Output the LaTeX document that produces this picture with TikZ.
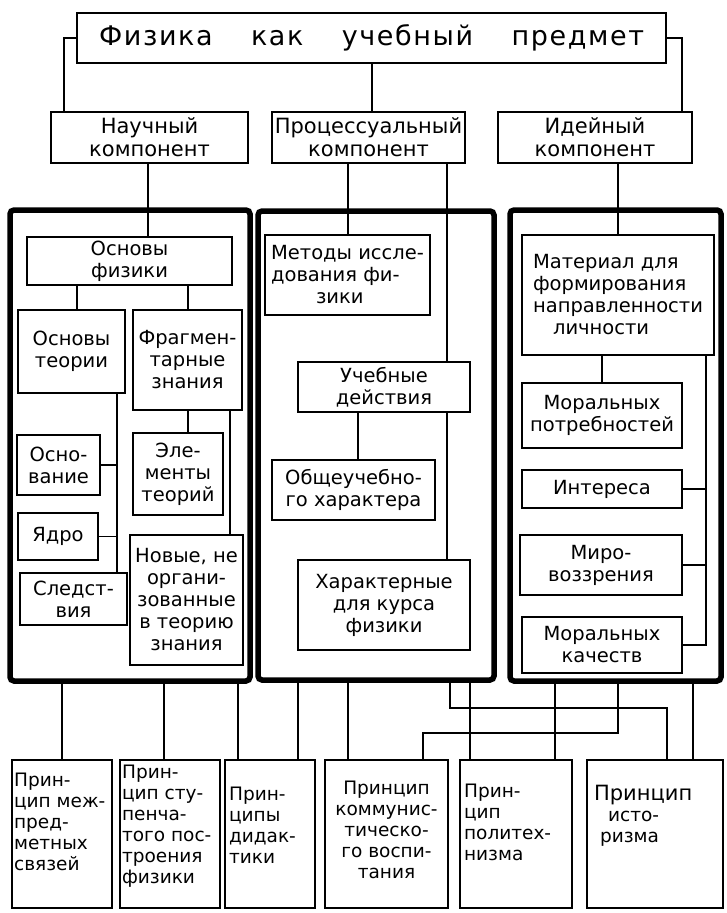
\documentclass[tikz,border=0pt]{standalone}
\usepackage{fontspec}
\setmainfont{DejaVu Sans}
\newcommand\fs{\fontsize{19.5}{22}\selectfont}
\newcommand\fr{\fontsize{21}{23}\selectfont}
\newcommand\fb{\fontsize{18.5}{21}\selectfont}
\newcommand\Bx[7][]{\node[bx,#1,minimum width={(#5-#3)*1pt},minimum height={(#6-#4)*1pt}] (#2) at ({(#3+#5)/2},{(#4+#6)/2}) {#7};}
\begin{document}
\begin{tikzpicture}[x=1pt,y=-1pt,
  bx/.style={draw,line width=2.2pt,inner sep=1pt,align=center,font=\fs},
  frm/.style={line width=5.5pt,rounded corners=4pt},
  bot/.style={font=\fb,align=left,inner sep=0pt},
  ln/.style={line width=1.8pt}]
\fill[white] (0,0) rectangle (727,913);
\useasboundingbox (0,0) rectangle (727,913);
% top
\Bx{top}{77}{13}{666}{63}{\fontsize{27}{30}\selectfont\addfontfeatures{LetterSpace=6}\makebox[545pt][s]{Физика как учебный предмет}}
\Bx[font=\fr]{nauch}{51}{112}{248}{163}{Научный\\компонент}
\Bx[font=\fr]{proc}{272}{112}{465}{163}{Процессуальный\\компонент}
\Bx[font=\fr]{idei}{498}{112}{692}{163}{Идейный\\компонент}
% frames
\Bx[frm]{frL}{10}{210}{250}{681}{}
\Bx[frm]{frM}{258}{211}{494}{680}{}
\Bx[frm]{frR}{510}{210}{721}{681}{}
% left
\Bx{osfiz}{27}{237}{232}{285}{Основы\\физики}
\Bx{osteor}{18}{310}{125}{393}{Основы\\теории}
\Bx{fragm}{133}{310}{242}{410}{Фрагмен-\\тарные\\знания}
\Bx{osnov}{17}{435}{100}{495}{Осно-\\вание}
\Bx{elem}{133}{433}{223}{515}{Эле-\\менты\\теорий}
\Bx{yadro}{18}{513}{98}{560}{Ядро}
\Bx{sledst}{20}{573}{127}{625}{Следст-\\вия}
\Bx{novye}{130}{535}{243}{665}{Новые, не\\органи-\\зованные\\в теорию\\знания}
% middle
\Bx[align=left]{metody}{265}{235}{430}{315}{Методы иссле-\\дования фи-\\\hspace*{45pt}зики}
\Bx{ucheb}{298}{362}{470}{412}{Учебные\\действия}
\Bx{obsh}{272}{460}{435}{520}{Общеучебно-\\го характера}
\Bx{harakt}{298}{560}{470}{650}{Характерные\\для курса\\физики}
% right
\Bx[align=left]{mater}{522}{235}{714}{355}{Материал для\\формирования\\направленности\\\hspace*{20pt}личности}
\Bx{morpotr}{522}{383}{682}{448}{Моральных\\потребностей}
\Bx{interes}{522}{470}{682}{508}{Интереса}
\Bx{mirov}{520}{535}{682}{595}{Миро-\\воззрения}
\Bx{morkach}{522}{617}{682}{673}{Моральных\\качеств}
% bottom boxes
\Bx{p1}{12}{760}{112}{908}{}
\Bx{p2}{120}{760}{220}{908}{}
\Bx{p3}{225}{760}{315}{908}{}
\Bx{p4}{325}{760}{448}{908}{}
\Bx{p5}{460}{760}{572}{908}{}
\Bx{p6}{587}{760}{723}{908}{}
\node[bot,anchor=north west] (t1) at ([xshift=3pt,yshift=-14pt]p1.north west) {Прин-\\цип меж-\\пред-\\метных\\связей};
\node[bot,anchor=north west] (t2) at ([xshift=3pt,yshift=-6pt]p2.north west) {Прин-\\цип сту-\\пенча-\\того пос-\\троения\\физики};
\node[bot,anchor=north west] (t3) at ([xshift=5pt,yshift=-28pt]p3.north west) {Прин-\\ципы\\дидак-\\тики};
\node[bot,anchor=north,align=center] (t4) at ([yshift=-22pt]p4.north) {Принцип\\коммунис-\\тическо-\\го воспи-\\тания};
\node[bot,anchor=north west] (t5) at ([xshift=5pt,yshift=-25pt]p5.north west) {Прин-\\цип\\политех-\\низма};
\node[bot,anchor=north west] (t6) at ([xshift=8pt,yshift=-26pt]p6.north west) {\fontsize{21}{24}\selectfont Принцип\\\hspace*{14pt}исто-\\\hspace*{6pt}ризма};
% top connectors
\draw[ln] (top.west) -| (nauch.north -| 64,0);
\draw[ln] (top.east) -| (idei.north -| 682,0);
\draw[ln] (top.south -| 372,0) -- (proc.north -| 372,0);
\draw[ln] (nauch.south -| 148,0) -- (osfiz.north -| 148,0);
\draw[ln] (proc.south -| 348,0) -- (metody.north -| 348,0);
\draw[ln] (proc.south -| 447,0) -- (ucheb.north -| 447,0);
\draw[ln] (idei.south -| 618,0) -- (mater.north -| 618,0);
% left inner
\draw[ln] (osfiz.south -| 77,0) -- (osteor.north -| 77,0);
\draw[ln] (osfiz.south -| 188,0) -- (fragm.north -| 188,0);
\draw[ln] (osteor.south -| 117,0) -- (sledst.north -| 117,0);
\draw[ln] (osnov.east) -- (osnov.east -| 117,0);
\draw[ln] (yadro.east) -- (yadro.east -| 117,0);
\draw[ln] (fragm.south -| 188,0) -- (elem.north -| 188,0);
\draw[ln] (fragm.south -| 230,0) -- (novye.north -| 230,0);
% middle inner
\draw[ln] (ucheb.south -| 447,0) -- (harakt.north -| 447,0);
\draw[ln] (ucheb.south -| 358,0) -- (obsh.north -| 358,0);
% right inner
\draw[ln] (mater.south -| 602,0) -- (morpotr.north -| 602,0);
\draw[ln] (mater.south -| 706,0) |- (morkach.east);
\draw[ln] (interes.east) -- (interes.east -| 706,0);
\draw[ln] (mirov.east) -- (mirov.east -| 706,0);
% bottom connectors
\draw[ln] (frL.south -| 62,0) -- (p1.north -| 62,0);
\draw[ln] (frL.south -| 164,0) -- (p2.north -| 164,0);
\draw[ln] (frL.south -| 238,0) -- (p3.north -| 238,0);
\draw[ln] (frM.south -| 298,0) -- (p3.north -| 298,0);
\draw[ln] (frM.south -| 348,0) -- (p4.north -| 348,0);
\draw[ln] (frM.south -| 470,0) -- (p5.north -| 470,0);
\draw[ln] (frM.south -| 450,0) |- (667,708) -- (p6.north -| 667,0);
\draw[ln] (frR.south -| 555,0) -- (p5.north -| 555,0);
\draw[ln] (frR.south -| 618,0) |- (423,733) -- (p4.north -| 423,0);
\draw[ln] (frR.south -| 693,0) -- (p6.north -| 693,0);
\end{tikzpicture}
\end{document}
